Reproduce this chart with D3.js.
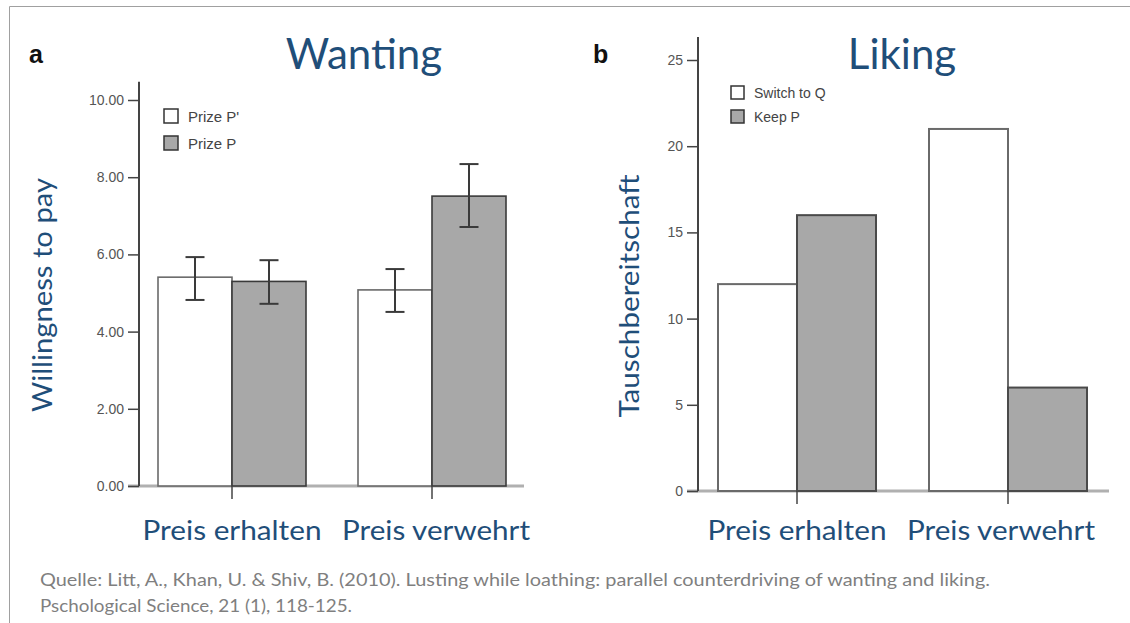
<!DOCTYPE html>
<html><head><meta charset="utf-8">
<script src="https://cdn.jsdelivr.net/npm/d3@7"></script>
<style>body{margin:0;background:#fff;} svg{display:block}</style>
</head><body>
<svg id="c" width="1130" height="623"></svg>
<script>
// ---------- data ----------
const categories = ["Preis erhalten", "Preis verwehrt"];
const wantingSeries = ["Prize P'", "Prize P"];
const wantingValues = [[5.41, 5.30], [5.08, 7.51]];
const wantingErrLow = [[4.82, 4.72], [4.51, 6.71]];
const wantingErrHigh = [[5.93, 5.85], [5.62, 8.34]];
const wantingTicks = [0, 2, 4, 6, 8, 10];
const likingSeries = ["Switch to Q", "Keep P"];
const likingValues = [[12, 16], [21, 6]];
const likingTicks = [0, 5, 10, 15, 20, 25];
const titles = ["Wanting", "Liking"];
const yTitles = ["Willingness to pay", "Tauschbereitschaft"];
const panelLabels = ["a", "b"];
const citation = [
  "Quelle: Litt, A., Khan, U. & Shiv, B. (2010). Lusting while loathing: parallel counterdriving of wanting and liking.",
  "Pschological Science, 21 (1), 118-125."
];

// ---------- drawing ----------
const svg = d3.select("#c");
const BLUE = "#1f4e79";
const GREY = "#a8a8a8";

// slide frame
svg.append("line").attr("x1", 9.5).attr("x2", 1130).attr("y1", 6.5).attr("y2", 6.5).attr("stroke", "#a0a0a0");
svg.append("line").attr("x1", 9.5).attr("x2", 9.5).attr("y1", 6.5).attr("y2", 623).attr("stroke", "#a0a0a0");

function panel(cfg) {
  const g = svg.append("g");
  const y = d3.scaleLinear().domain([0, cfg.tickValues[cfg.tickValues.length - 1]]).range([cfg.base, cfg.topTick]);
  const x0 = d3.scaleBand().domain(categories).range(cfg.xRange);
  const bw = x0.bandwidth();
  const x1 = d3.scaleBand().domain(cfg.series).range([bw / 2 - cfg.barW, bw / 2 + cfg.barW]);

  // x baseline
  g.append("line").attr("x1", cfg.axisX - 11).attr("x2", cfg.xEnd)
    .attr("y1", y(0)).attr("y2", y(0)).attr("stroke", "#b0b0b0").attr("stroke-width", 3);

  // bars
  categories.forEach((c, ci) => {
    cfg.series.forEach((s, si) => {
      const v = cfg.values[ci][si];
      g.append("rect")
        .attr("x", x0(c) + x1(s)).attr("width", x1.bandwidth())
        .attr("y", y(v)).attr("height", y(0) - y(v))
        .attr("fill", si === 0 ? "#ffffff" : GREY)
        .attr("stroke", si === 0 ? cfg.whiteStroke : cfg.greyStroke)
        .attr("stroke-width", cfg.barStrokeW);
    });
  });

  // error bars
  if (cfg.errLow) {
    categories.forEach((c, ci) => {
      cfg.series.forEach((s, si) => {
        const cx = x0(c) + x1(s) + x1.bandwidth() / 2;
        const lo = y(cfg.errLow[ci][si]), hi = y(cfg.errHigh[ci][si]);
        const eg = g.append("g").attr("stroke", "#3a3a3a").attr("stroke-width", 2);
        eg.append("line").attr("x1", cx).attr("x2", cx).attr("y1", lo).attr("y2", hi);
        eg.append("line").attr("x1", cx - 9.5).attr("x2", cx + 9.5).attr("y1", lo).attr("y2", lo);
        eg.append("line").attr("x1", cx - 9.5).attr("x2", cx + 9.5).attr("y1", hi).attr("y2", hi);
      });
    });
  }

  // x ticks at group centres
  categories.forEach(c => {
    const cx = x0(c) + bw / 2;
    g.append("line").attr("x1", cx).attr("x2", cx).attr("y1", y(0)).attr("y2", y(0) + 13)
      .attr("stroke", "#444").attr("stroke-width", 1.5);
  });

  // y axis
  const ax = g.append("g").attr("transform", `translate(${cfg.axisX},0)`)
    .call(d3.axisLeft(y).tickValues(cfg.tickValues).tickFormat(cfg.fmt).tickSize(11).tickSizeOuter(0).tickPadding(4));
  ax.select(".domain").remove();
  ax.selectAll(".tick line").attr("stroke", "#444").attr("stroke-width", 1.5);
  ax.selectAll(".tick text").attr("fill", "#555").style("font-family", "Liberation Sans, Arial, sans-serif")
    .style("font-size", cfg.tickFont + "px");
  g.append("line").attr("x1", cfg.axisX).attr("x2", cfg.axisX).attr("y1", y(0)).attr("y2", y(cfg.axisTop))
    .attr("stroke", "#444").attr("stroke-width", 2);

  // legend
  cfg.series.forEach((s, si) => {
    g.append("rect").attr("x", cfg.legX).attr("y", cfg.legY + si * cfg.legStep)
      .attr("width", cfg.legBox).attr("height", cfg.legBox)
      .attr("fill", si === 0 ? "#fff" : GREY).attr("stroke", "#333").attr("stroke-width", 1.5);
    g.append("text").attr("x", cfg.legX + cfg.legBox + 10).attr("y", cfg.legY + si * cfg.legStep + cfg.legBox - 1)
      .attr("fill", "#444").style("font-family", "Liberation Sans, Arial, sans-serif")
      .style("font-size", cfg.legFont + "px").text(s);
  });

  // panel label
  g.append("text").attr("x", cfg.labX).attr("y", cfg.labY).attr("fill", "#111")
    .style("font-family", "Liberation Sans, Arial, sans-serif").style("font-weight", "bold")
    .style("font-size", "25px").text(cfg.label);

  // title
  g.append("text").attr("x", cfg.titleX).attr("y", 69).attr("text-anchor", "middle").attr("fill", BLUE)
    .style("font-family", "Lato, sans-serif").style("font-size", "42px").text(cfg.title);

  // y title
  g.append("text").attr("transform", `translate(${cfg.yTitleX},${cfg.yTitleY}) rotate(-90)`)
    .attr("text-anchor", "middle").attr("fill", BLUE)
    .style("font-family", "Lato, sans-serif").style("font-size", "27px")
    .attr("textLength", cfg.yTitleLen).attr("lengthAdjust", "spacingAndGlyphs")
    .text(cfg.yTitle);

  // category labels
  categories.forEach((c, ci) => {
    g.append("text").attr("x", x0(c) + bw / 2 + cfg.catShift[ci]).attr("y", 540)
      .attr("text-anchor", "middle").attr("fill", BLUE)
      .style("font-family", "Lato, sans-serif").style("font-size", "26px")
      .attr("textLength", cfg.catLen[ci]).attr("lengthAdjust", "spacingAndGlyphs")
      .text(c);
  });
}

panel({
  series: wantingSeries, values: wantingValues, errLow: wantingErrLow, errHigh: wantingErrHigh,
  tickValues: wantingTicks, fmt: d3.format(".2f"), base: 486, topTick: 100, axisTop: 10.47,
  xRange: [132, 532], barW: 74, axisX: 139, xEnd: 524,
  whiteStroke: "#6a6a6a", greyStroke: "#3a3a3a", barStrokeW: 1.6, tickFont: 14,
  legX: 164, legY: 109, legStep: 27, legBox: 14, legFont: 15,
  label: panelLabels[0], labX: 29, labY: 63, title: titles[0], titleX: 364,
  yTitle: yTitles[0], yTitleX: 52, yTitleY: 295, yTitleLen: 234,
  catShift: [0, 4], catLen: [179, 188]
});

panel({
  series: likingSeries, values: likingValues, errLow: null,
  tickValues: likingTicks, fmt: d3.format("d"), base: 491, topTick: 60, axisTop: 26.33,
  xRange: [691.5, 1113.5], barW: 79, axisX: 698, xEnd: 1109,
  whiteStroke: "#6a6a6a", greyStroke: "#4a4a4a", barStrokeW: 2, tickFont: 14,
  legX: 731, legY: 86, legStep: 24, legBox: 13, legFont: 14,
  label: panelLabels[1], labX: 593, labY: 63, title: titles[1], titleX: 902,
  yTitle: yTitles[1], yTitleX: 639, yTitleY: 296, yTitleLen: 243,
  catShift: [0, -7], catLen: [179, 188]
});

// citation
citation.forEach((line, i) => {
  svg.append("text").attr("x", 40).attr("y", 586 + i * 26).attr("fill", "#7f7f7f")
    .style("font-family", "Lato, sans-serif").style("font-size", "18px")
    .attr("textLength", i === 0 ? 950 : 312).attr("lengthAdjust", "spacingAndGlyphs")
    .text(line);
});
</script>
</body></html>
